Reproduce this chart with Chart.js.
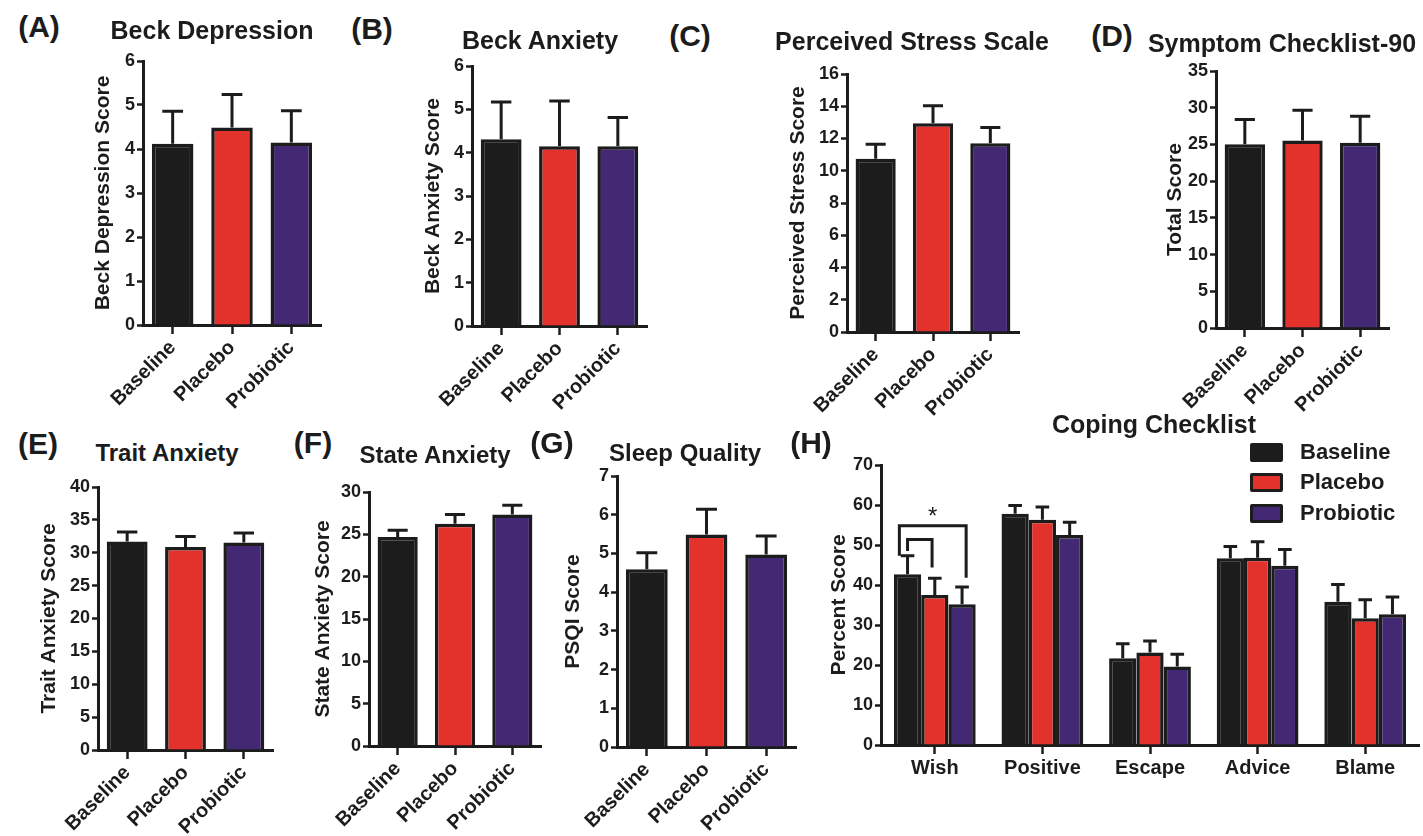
<!DOCTYPE html>
<html>
<head>
<meta charset="utf-8">
<script src="https://cdn.jsdelivr.net/npm/chart.js@4.4.1/dist/chart.umd.min.js"></script>
<style>
html, body { margin: 0; padding: 0; background: #fff; }
body { width: 1423px; height: 836px; position: relative; overflow: hidden;
       font-family: 'Liberation Sans', Arial, sans-serif; color: #1c1c1c; }
canvas { position: absolute; }
.lbl { position: absolute; transform: translate(-50%, -50%); white-space: nowrap; line-height: 1; font-weight: bold; }
.key { position: absolute; box-sizing: border-box; width: 33px; height: 19px; border: 3px solid #1c1c1c; border-radius: 2px; }
.keytxt { position: absolute; transform: translateY(-50%); white-space: nowrap; line-height: 1; font-weight: bold; font-size: 22px; }
</style>
</head>
<body>
<script>
const INK = '#1c1c1c';
const groups = ['Baseline', 'Placebo', 'Probiotic'];
const groupColors = ['#1c1c1c', '#e3322c', '#432873'];

// means and SEM
const beckDepression    = [4.12, 4.49, 4.15];
const beckDepressionErr = [0.74, 0.75, 0.72];
const beckAnxiety       = [4.31, 4.15, 4.15];
const beckAnxietyErr    = [0.86, 1.04, 0.66];
const stress            = [10.74, 12.95, 11.71];
const stressErr         = [0.91, 1.08, 0.97];
const scl90             = [25.04, 25.54, 25.22];
const scl90Err          = [3.35, 4.12, 3.62];
const traitAnx          = [31.73, 30.86, 31.57];
const traitAnxErr       = [1.42, 1.63, 1.43];
const stateAnx          = [24.69, 26.26, 27.33];
const stateAnxErr       = [0.79, 1.07, 1.10];
const psqi              = [4.59, 5.49, 4.97];
const psqiErr           = [0.43, 0.65, 0.48];

const copingCats         = ['Wish', 'Positive', 'Escape', 'Advice', 'Blame'];
const copingBaseline     = [42.7, 57.8, 21.7, 46.7, 35.8];
const copingBaselineErr  = [4.6, 2.1, 3.6, 2.9, 4.3];
const copingPlacebo      = [37.5, 56.3, 23.1, 46.8, 31.7];
const copingPlaceboErr   = [4.2, 3.2, 2.9, 4.0, 4.6];
const copingProbiotic    = [35.2, 52.5, 19.6, 44.8, 32.7];
const copingProbioticErr = [4.3, 3.2, 3.1, 4.1, 4.3];

// significance brackets over "Wish" (dataset index, bracket height, leg ends)
const wishBrackets = [
    { from: 0, to: 2, y: 54.8, yFrom: 47.3, yTo: 41.8 },
    { from: 0, to: 1, y: 51.4, yFrom: 48.5, yTo: 44.4 }
];
const wishStar = 58.3;

Chart.defaults.font.family = "'Liberation Sans', Arial, sans-serif";
Chart.defaults.color = INK;

const Y_W = 64;

const errorBars = {
    id: 'errorBars',
    afterDatasetsDraw(chart) {
        const ctx = chart.ctx, y = chart.scales.y;
        ctx.save();
        ctx.strokeStyle = INK;
        ctx.lineWidth = 3;
        chart.data.datasets.forEach((ds, i) => {
            chart.getDatasetMeta(i).data.forEach((bar, j) => {
                const top = y.getPixelForValue(ds.data[j] + ds.errors[j]);
                const half = bar.width * 0.25;
                ctx.beginPath();
                ctx.moveTo(bar.x, bar.y);
                ctx.lineTo(bar.x, top);
                ctx.moveTo(bar.x - half, top);
                ctx.lineTo(bar.x + half, top);
                ctx.stroke();
            });
        });
        ctx.restore();
    }
};

const bracketShift = [[-0.3, 0.15], [0, -0.1]];
const brackets = {
    id: 'brackets',
    afterDatasetsDraw(chart) {
        const ctx = chart.ctx, y = chart.scales.y;
        const bars = [0, 1, 2].map(i => chart.getDatasetMeta(i).data[0]);
        const bw = bars[0].width;
        ctx.save();
        ctx.strokeStyle = INK;
        ctx.lineWidth = 3;
        let mid = 0;
        wishBrackets.forEach((b, k) => {
            const x1 = bars[b.from].x + bracketShift[k][0] * bw;
            const x2 = bars[b.to].x + bracketShift[k][1] * bw;
            const yb = y.getPixelForValue(b.y);
            if (k === 0) mid = (x1 + x2) / 2;
            ctx.beginPath();
            ctx.moveTo(x1, y.getPixelForValue(b.yFrom));
            ctx.lineTo(x1, yb);
            ctx.lineTo(x2, yb);
            ctx.lineTo(x2, y.getPixelForValue(b.yTo));
            ctx.stroke();
        });
        ctx.fillStyle = INK;
        ctx.font = "24px 'Liberation Sans', Arial, sans-serif";
        ctx.textAlign = 'center';
        ctx.textBaseline = 'alphabetic';
        ctx.fillText('*', mid, y.getPixelForValue(wishStar) + 12);
        ctx.restore();
    }
};

function panel(box, o) {
    const [L, T, R, B] = box;
    const padTop = 20, padRight = o.padRight ?? 12;
    const w = R + padRight - (L - Y_W), h = B + o.xH - (T - padTop);
    const cv = document.createElement('canvas');
    cv.width = w; cv.height = h;
    cv.style.left = (L - Y_W) + 'px';
    cv.style.top = (T - padTop) + 'px';
    document.body.appendChild(cv);
    new Chart(cv, {
        type: 'bar',
        data: { labels: o.labels, datasets: o.datasets },
        options: {
            responsive: false,
            animation: false,
            layout: { padding: { top: padTop, right: padRight, left: 0, bottom: 0 } },
            plugins: { legend: { display: false }, tooltip: { enabled: false } },
            datasets: { bar: { categoryPercentage: o.catPct, barPercentage: o.barPct,
                               borderColor: INK, borderWidth: 3.5 } },
            scales: {
                x: {
                    offset: true,
                    border: { display: true, width: 3, color: INK },
                    grid: { offset: false, drawOnChartArea: false, drawTicks: true,
                            tickLength: 9, tickWidth: 2.5, tickColor: INK, color: INK },
                    ticks: { autoSkip: false, minRotation: o.rot, maxRotation: o.rot, padding: 2,
                             color: INK, font: { size: o.xFont, weight: 'bold' } },
                    afterFit: s => { s.height = o.xH; }
                },
                y: {
                    min: 0, max: o.max,
                    border: { display: true, width: 3, color: INK },
                    grid: { drawOnChartArea: false, drawTicks: true,
                            tickLength: 6, tickWidth: 2.5, tickColor: INK, color: INK },
                    ticks: { stepSize: o.step, padding: 2, color: INK,
                             font: { size: 18, weight: 'bold' } },
                    title: { display: true, text: o.yTitle, color: INK,
                             font: { size: 21, weight: 'bold', lineHeight: 1.2 },
                             padding: { top: Y_W - o.dist - 12.6, bottom: 0 } },
                    afterFit: s => { s.width = Y_W; }
                }
            }
        },
        plugins: o.plugins
    });
}

function single(box, vals, errs, max, step, yTitle, dist, xH) {
    panel(box, {
        labels: groups,
        datasets: [{ data: vals, errors: errs, backgroundColor: groupColors }],
        max, step, yTitle, dist, xH, rot: 45, xFont: 20,
        catPct: 1, barPct: 0.7, plugins: [errorBars]
    });
}

single([143, 61, 321, 325],  beckDepression, beckDepressionErr, 6, 1, 'Beck Depression Score', 40, 100);
single([472, 66, 647, 326],  beckAnxiety, beckAnxietyErr, 6, 1, 'Beck Anxiety Score', 39, 100);
single([847, 74, 1019, 332], stress, stressErr, 16, 2, 'Perceived Stress Score', 49, 100);
single([1216, 71, 1389, 328], scl90, scl90Err, 35, 5, 'Total Score', 41, 100);
single([98, 487, 273, 750],  traitAnx, traitAnxErr, 40, 5, 'Trait Anxiety Score', 49, 86);
single([369, 492, 541, 746], stateAnx, stateAnxErr, 30, 5, 'State Anxiety Score', 46, 90);
single([617, 476, 796, 747], psqi, psqiErr, 7, 1, 'PSQI Score', 44, 89);

panel([881, 465, 1419, 745], {
    labels: copingCats,
    datasets: [
        { label: groups[0], data: copingBaseline,  errors: copingBaselineErr,  backgroundColor: groupColors[0] },
        { label: groups[1], data: copingPlacebo,   errors: copingPlaceboErr,   backgroundColor: groupColors[1] },
        { label: groups[2], data: copingProbiotic, errors: copingProbioticErr, backgroundColor: groupColors[2] }
    ],
    max: 70, step: 10, yTitle: 'Percent Score', dist: 42, xH: 60, rot: 0, xFont: 20,
    catPct: 0.76, barPct: 1, padRight: 4, plugins: [errorBars, brackets]
});

// panel letters and titles
const texts = [
    ['(A)', 39, 27, 30], ['(B)', 372, 29, 30], ['(C)', 690, 36, 30], ['(D)', 1112, 36, 30],
    ['(E)', 38, 444, 30], ['(F)', 313, 443, 30], ['(G)', 552, 443, 30], ['(H)', 811, 443, 30],
    ['Beck Depression', 212, 30, 25], ['Beck Anxiety', 540, 40, 25],
    ['Perceived Stress Scale', 912, 41, 25], ['Symptom Checklist-90', 1282, 43, 25],
    ['Trait Anxiety', 167, 453, 24], ['State Anxiety', 435, 455, 24],
    ['Sleep Quality', 685, 453, 24], ['Coping Checklist', 1154, 424, 25]
];
texts.forEach(([t, x, y, size]) => {
    const d = document.createElement('div');
    d.className = 'lbl';
    d.textContent = t;
    d.style.left = x + 'px';
    d.style.top = y + 'px';
    d.style.fontSize = size + 'px';
    document.body.appendChild(d);
});

// legend of panel H
const keyRows = [452, 482, 513];
groups.forEach((g, i) => {
    const box = document.createElement('div');
    box.className = 'key';
    box.style.left = '1250px';
    box.style.top = (keyRows[i] - 9.5) + 'px';
    box.style.background = groupColors[i];
    document.body.appendChild(box);
    const t = document.createElement('div');
    t.className = 'keytxt';
    t.textContent = g;
    t.style.left = '1300px';
    t.style.top = keyRows[i] + 'px';
    document.body.appendChild(t);
});
</script>
</body>
</html>
